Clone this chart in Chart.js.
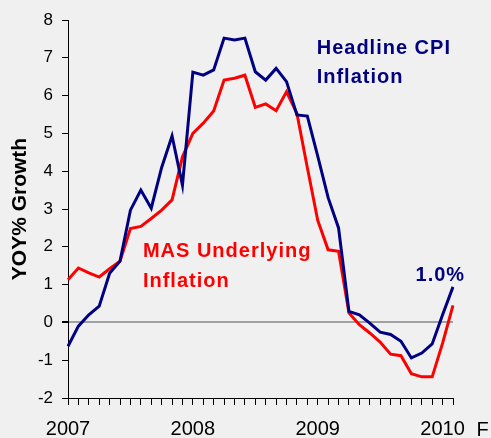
<!DOCTYPE html>
<html>
<head>
<meta charset="utf-8">
<script src="https://cdn.jsdelivr.net/npm/chart.js@4.4.1/dist/chart.umd.min.js"></script>
<style>
  html, body { margin: 0; padding: 0; background: #f0f0f0; }
  #wrap { width: 491px; height: 438px; }
</style>
</head>
<body>
<div id="wrap"><canvas id="grafico" width="491" height="438"></canvas></div>
<script>
// Monthly, Jan 2007 - Feb 2010
const months = [
  '2007-01', '2007-02', '2007-03', '2007-04', '2007-05', '2007-06',
  '2007-07', '2007-08', '2007-09', '2007-10', '2007-11', '2007-12',
  '2008-01', '2008-02', '2008-03', '2008-04', '2008-05', '2008-06',
  '2008-07', '2008-08', '2008-09', '2008-10', '2008-11', '2008-12',
  '2009-01', '2009-02', '2009-03', '2009-04', '2009-05', '2009-06',
  '2009-07', '2009-08', '2009-09', '2009-10', '2009-11', '2009-12',
  '2010-01', '2010-02'
];

const headlineCpi = [
  -0.63, -0.1, 0.2, 0.43, 1.3, 1.62, 2.97, 3.5, 3.02, 4.1, 4.93, 3.63,
  6.62, 6.54, 6.68, 7.52, 7.47, 7.52, 6.63, 6.41, 6.72, 6.37, 5.49, 5.46,
  4.4, 3.3, 2.5, 0.29, 0.2, -0.02, -0.26, -0.32, -0.5, -0.94, -0.81, -0.57,
  0.2, 0.94
];

const masUnderlying = [
  1.13, 1.44, 1.31, 1.2, 1.42, 1.62, 2.48, 2.54, 2.75, 2.97, 3.24, 4.38,
  5.0, 5.27, 5.59, 6.41, 6.46, 6.54, 5.69, 5.78, 5.6, 6.1, 5.53, 4.1,
  2.7, 1.92, 1.88, 0.25, -0.06, -0.28, -0.52, -0.84, -0.88, -1.36, -1.44, -1.44,
  -0.55, 0.45
];

const navy = '#000080';
const red = '#ff0000';

Chart.defaults.font.family = '"Liberation Sans", Arial, sans-serif';
Chart.defaults.color = '#000';

// Texts written on the chart
const notas = {
  id: 'notas',
  afterDatasetsDraw(chart) {
    const ctx = chart.ctx;
    const x = chart.scales.x;
    const y = chart.scales.y;
    ctx.save();
    ctx.textAlign = 'left';
    ctx.textBaseline = 'alphabetic';
    ctx.letterSpacing = '1px';
    ctx.font = 'bold 20px "Liberation Sans", Arial, sans-serif';

    ctx.fillStyle = navy;
    ctx.fillText('Headline CPI', x.getPixelForValue(23.9), y.getPixelForValue(7.1));
    ctx.fillText('Inflation', x.getPixelForValue(23.9), y.getPixelForValue(7.1) + 29);
    ctx.fillText('1.0%', x.getPixelForValue(33.4), y.getPixelForValue(1.1));

    ctx.fillStyle = red;
    ctx.fillText('MAS Underlying', x.getPixelForValue(7.2), y.getPixelForValue(1.73));
    ctx.fillText('Inflation', x.getPixelForValue(7.2), y.getPixelForValue(1.73) + 30);

    // "F" after the last year label
    ctx.letterSpacing = '0px';
    ctx.fillStyle = '#000';
    ctx.font = '20px "Liberation Sans", Arial, sans-serif';
    ctx.fillText('F', x.getPixelForValue(36) + 34, y.bottom + 38);
    ctx.restore();
  }
};

const grafico = new Chart(document.getElementById('grafico'), {
  type: 'line',
  data: {
    labels: months,
    datasets: [{
      label: 'Headline CPI Inflation',
      data: headlineCpi,
      borderColor: navy,
      backgroundColor: navy,
      borderWidth: 3,
      pointRadius: 0,
      tension: 0
    }, {
      label: 'MAS Underlying Inflation',
      data: masUnderlying,
      borderColor: red,
      backgroundColor: red,
      borderWidth: 3,
      pointRadius: 0,
      tension: 0
    }]
  },
  options: {
    responsive: false,
    animation: false,
    layout: {
      padding: { top: 20, right: 38, bottom: 0, left: 0 }
    },
    plugins: {
      legend: { display: false },
      tooltip: { enabled: false }
    },
    scales: {
      x: {
        offset: false,
        afterFit: function (scale) { scale.height = 40; },
        border: { color: '#000', width: 1 },
        grid: {
          drawOnChartArea: false,
          drawTicks: true,
          tickLength: 7,
          color: '#000',
          offset: false
        },
        ticks: {
          autoSkip: false,
          maxRotation: 0,
          padding: 12,
          font: { size: 20 },
          callback: function (value, index) {
            const m = months[index];
            return m.endsWith('-01') ? m.slice(0, 4) : '';
          }
        }
      },
      y: {
        min: -2,
        max: 8,
        afterFit: function (scale) { scale.width = 68; },
        border: { color: '#000', width: 1 },
        grid: {
          drawTicks: true,
          tickLength: 6,
          tickColor: '#000',
          color: function (c) { return c.tick && c.tick.value === 0 ? '#a0a0a0' : 'rgba(0,0,0,0)'; },
          lineWidth: function (c) { return c.tick && c.tick.value === 0 ? 2 : 1; }
        },
        ticks: {
          stepSize: 1,
          padding: 9,
          font: { size: 17 }
        },
        title: {
          display: true,
          text: 'YOY% Growth',
          color: '#000',
          padding: { top: 8, bottom: 0 },
          font: { size: 21, weight: 'bold' }
        }
      }
    }
  },
  plugins: [notas]
});
</script>
</body>
</html>
